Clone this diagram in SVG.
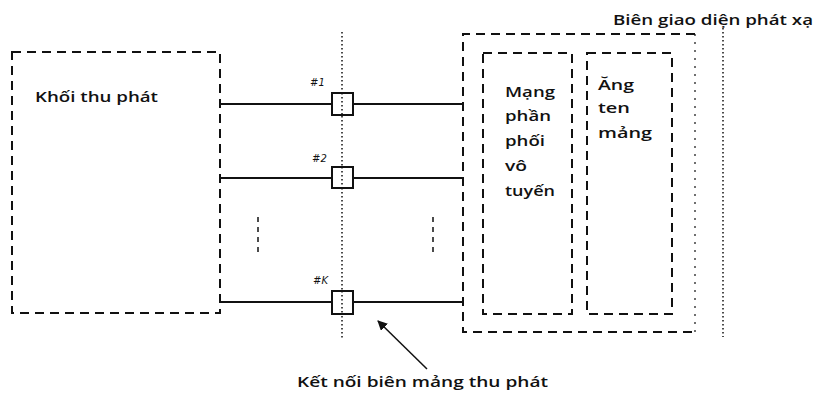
<svg xmlns="http://www.w3.org/2000/svg" width="818" height="394" viewBox="0 0 818 394">
<style>
.dash{fill:none;stroke:#111;stroke-width:2;stroke-dasharray:9 6}
.dot{fill:none;stroke:#111;stroke-width:1.5;stroke-dasharray:1.5 2.5}
.line{fill:none;stroke:#111;stroke-width:2}
.port{fill:#fff;stroke:#111;stroke-width:2}
.t{font-family:"Open Sans","DejaVu Sans",sans-serif;font-size:15px;font-weight:600;fill:#111}
.s{font-family:"DejaVu Sans","Liberation Sans",sans-serif;font-size:10px;font-style:italic;fill:#111}
</style>
<defs>
<marker id="ah" viewBox="0 0 10 10" refX="9" refY="5" markerWidth="10" markerHeight="10" markerUnits="userSpaceOnUse" orient="auto">
<path d="M0,0 L10,5 L0,10 z" fill="#111"/>
</marker>
</defs>
<rect width="818" height="394" fill="#fff"/>
<g id="transceiver">
<rect class="dash" x="12" y="52" width="208" height="261"/>
<text class="t" x="35" y="102" textLength="123" lengthAdjust="spacingAndGlyphs">Khối thu phát</text>
</g>
<g id="radiation-boundary">
<path class="dash" d="M695,34 H463 V332 H695"/>
<line class="dot" x1="695" y1="34" x2="695" y2="332" style="stroke-width:1.2;stroke-dasharray:2 6"/>
</g>
<g id="distribution-network">
<rect class="dash" x="483" y="53" width="89" height="261"/>
<text class="t" x="505" y="97" textLength="50" lengthAdjust="spacingAndGlyphs">Mạng</text>
<text class="t" x="505" y="121" textLength="46" lengthAdjust="spacingAndGlyphs">phần</text>
<text class="t" x="505" y="146" textLength="40" lengthAdjust="spacingAndGlyphs">phối</text>
<text class="t" x="505" y="171" textLength="22" lengthAdjust="spacingAndGlyphs">vô</text>
<text class="t" x="505" y="196" textLength="50" lengthAdjust="spacingAndGlyphs">tuyến</text>
</g>
<g id="array-antenna">
<rect class="dash" x="587" y="53" width="85" height="261"/>
<text class="t" x="598" y="90" textLength="36" lengthAdjust="spacingAndGlyphs">Ăng</text>
<text class="t" x="598" y="113" textLength="32" lengthAdjust="spacingAndGlyphs">ten</text>
<text class="t" x="598" y="138" textLength="54" lengthAdjust="spacingAndGlyphs">mảng</text>
</g>
<g id="radiation-interface">
<line class="dot" x1="723" y1="28" x2="723" y2="337"/>
<text class="t" x="613" y="25" textLength="200" lengthAdjust="spacingAndGlyphs">Biên giao diện phát xạ</text>
</g>
<g id="array-boundary">
<line class="dot" x1="342" y1="32" x2="342" y2="338"/>
<text class="t" x="297" y="387" textLength="251" lengthAdjust="spacingAndGlyphs">Kết nối biên mảng thu phát</text>
</g>
<g id="connectors">
<line class="line" x1="220" y1="104" x2="463" y2="104"/>
<line class="line" x1="220" y1="178" x2="463" y2="178"/>
<line class="line" x1="220" y1="302" x2="463" y2="302"/>
<line class="dash" x1="258" y1="217" x2="258" y2="257" style="stroke-width:1.5;stroke-dasharray:5 5"/>
<line class="dash" x1="433" y1="217" x2="433" y2="257" style="stroke-width:1.5;stroke-dasharray:5 5"/>
<line class="line" x1="427" y1="369" x2="378" y2="321" marker-end="url(#ah)" style="stroke-width:1.5"/>
</g>
<g id="port1">
<rect class="port" x="332" y="93" width="21" height="22"/>
<line class="dot" x1="342" y1="93" x2="342" y2="115"/>
<text class="s" x="310" y="86">#1</text>
</g>
<g id="port2">
<rect class="port" x="332" y="167" width="21" height="21"/>
<line class="dot" x1="342" y1="167" x2="342" y2="188"/>
<text class="s" x="312" y="162">#2</text>
</g>
<g id="portK">
<rect class="port" x="332" y="291" width="21" height="23"/>
<line class="dot" x1="342" y1="291" x2="342" y2="314"/>
<text class="s" x="313" y="284">#K</text>
</g>
</svg>
